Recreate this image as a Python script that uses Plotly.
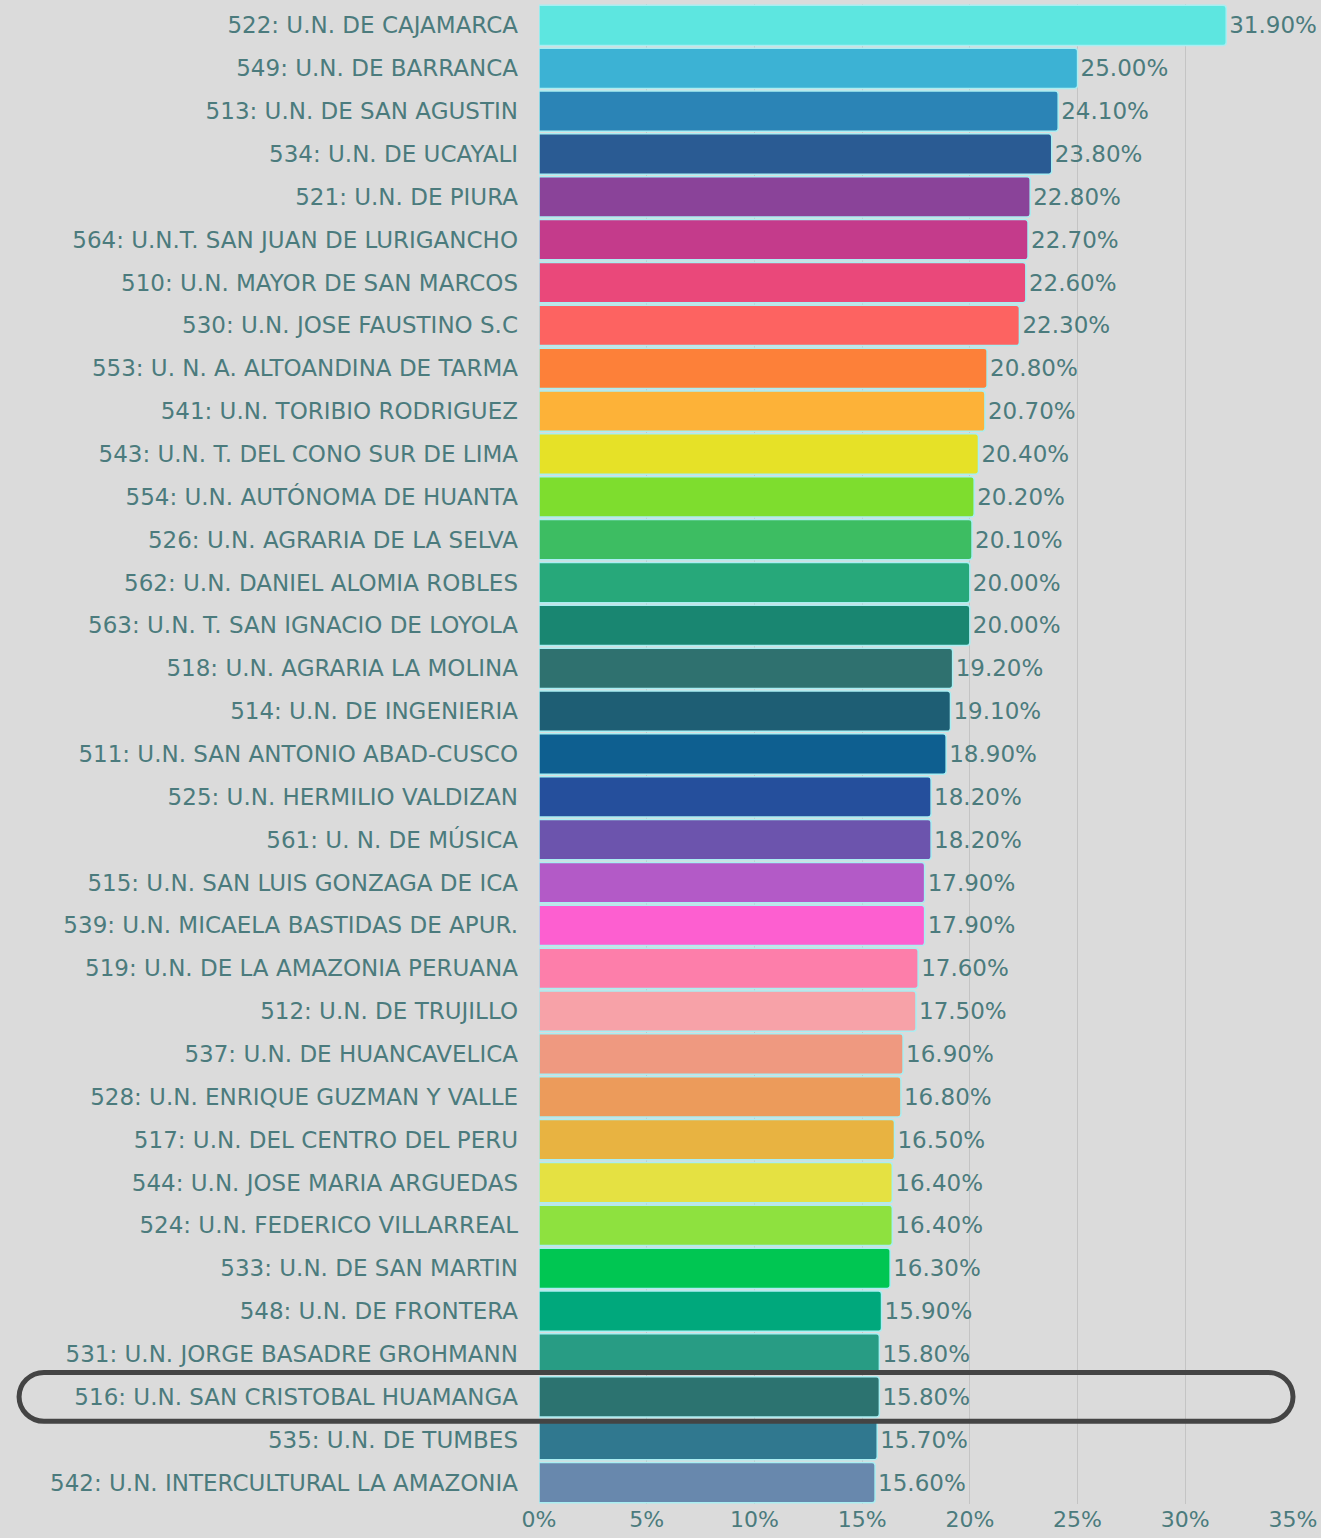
import plotly.graph_objects as go

categories = [
    "522: U.N. DE CAJAMARCA", "549: U.N. DE BARRANCA", "513: U.N. DE SAN AGUSTIN",
    "534: U.N. DE UCAYALI", "521: U.N. DE PIURA", "564: U.N.T. SAN JUAN DE LURIGANCHO",
    "510: U.N. MAYOR DE SAN MARCOS", "530: U.N. JOSE FAUSTINO S.C",
    "553: U. N. A. ALTOANDINA DE TARMA", "541: U.N. TORIBIO RODRIGUEZ",
    "543: U.N. T. DEL CONO SUR DE LIMA", "554: U.N. AUTÓNOMA DE HUANTA",
    "526: U.N. AGRARIA DE LA SELVA", "562: U.N. DANIEL ALOMIA ROBLES",
    "563: U.N. T. SAN IGNACIO DE LOYOLA", "518: U.N. AGRARIA LA MOLINA",
    "514: U.N. DE INGENIERIA", "511: U.N. SAN ANTONIO ABAD-CUSCO",
    "525: U.N. HERMILIO VALDIZAN", "561: U. N. DE MÚSICA",
    "515: U.N. SAN LUIS GONZAGA DE ICA", "539: U.N. MICAELA BASTIDAS DE APUR.",
    "519: U.N. DE LA AMAZONIA PERUANA", "512: U.N. DE TRUJILLO",
    "537: U.N. DE HUANCAVELICA", "528: U.N. ENRIQUE GUZMAN Y VALLE",
    "517: U.N. DEL CENTRO DEL PERU", "544: U.N. JOSE MARIA ARGUEDAS",
    "524: U.N. FEDERICO VILLARREAL", "533: U.N. DE SAN MARTIN",
    "548: U.N. DE FRONTERA", "531: U.N. JORGE BASADRE GROHMANN",
    "516: U.N. SAN CRISTOBAL HUAMANGA", "535: U.N. DE TUMBES",
    "542: U.N. INTERCULTURAL LA AMAZONIA",
]
values = [31.9, 25.0, 24.1, 23.8, 22.8, 22.7, 22.6, 22.3, 20.8, 20.7, 20.4, 20.2,
          20.1, 20.0, 20.0, 19.2, 19.1, 18.9, 18.2, 18.2, 17.9, 17.9, 17.6, 17.5,
          16.9, 16.8, 16.5, 16.4, 16.4, 16.3, 15.9, 15.8, 15.8, 15.7, 15.6]
colors = ["#5de6e0", "#3cb2d4", "#2b84b6", "#2a5b93", "#8a4399", "#c43b8b",
          "#ea487a", "#fd6361", "#fd8039", "#fdb238", "#e6e127", "#7edd2e",
          "#3dbd62", "#27a87a", "#198671", "#2f716f", "#1e5e74", "#0e5f90",
          "#254f9c", "#6c54ad", "#b35ac7", "#fd5fd0", "#fd7eaa", "#f7a2a8",
          "#ef9980", "#ec9b5b", "#e8b341", "#e5e142", "#8ee13f", "#00c652",
          "#00a87c", "#289c84", "#2c7370", "#30788f", "#6888ad"]
highlight = "516: U.N. SAN CRISTOBAL HUAMANGA"
x_ticks = [0, 5, 10, 15, 20, 25, 30, 35]

positions = list(range(len(categories)))
text_color = "#4b7b7d"
bg = "#dbdbdb"
FONT = "DejaVu Sans"
FS = 23

fig = go.Figure(go.Bar(
    x=values, y=positions, orientation="h",
    marker=dict(color=colors, line=dict(color="#a9eef2", width=1.5), cornerradius=3),
    text=[f"{v:.2f}%" for v in values], textposition="outside",
    textfont=dict(color=text_color, size=FS, family=FONT),
    cliponaxis=False,
))

W, H = 1321, 1538
ml, mr, mt, mb = 539, 25, 4, 34
fig.update_layout(
    width=W, height=H, paper_bgcolor=bg, plot_bgcolor=bg,
    margin=dict(l=ml, r=mr, t=mt, b=mb),
    bargap=0.06, showlegend=False,
    font=dict(family=FONT, color=text_color, size=FS),
)
fig.update_xaxes(range=[0, 35], tickvals=x_ticks, ticktext=[f"{t}%" for t in x_ticks],
                 showgrid=True, gridcolor="#c4c4c4", gridwidth=1, zeroline=False,
                 tickfont=dict(size=22, color=text_color, family=FONT), ticks="", showline=False)
fig.update_yaxes(range=[len(categories) - 0.5, -0.5], tickvals=positions, ticktext=categories,
                 showgrid=False, zeroline=False, ticks="", ticklabelstandoff=20,
                 tickfont=dict(size=FS, color=text_color, family=FONT))

# rounded highlight box around the highlighted row
idx = categories.index(highlight)
hh = 0.57
y0, y1 = idx - hh, idx + hh
x_left, x_right = (17 - ml) / (W - ml - mr), 1.0
rx = 25 / (W - ml - mr)
k = 0.5523
path = (f"M {x_left + rx} {y0} L {x_right - rx} {y0} "
        f"C {x_right - rx + rx * k} {y0} {x_right} {idx - hh * k} {x_right} {idx} "
        f"C {x_right} {idx + hh * k} {x_right - rx + rx * k} {y1} {x_right - rx} {y1} "
        f"L {x_left + rx} {y1} "
        f"C {x_left + rx - rx * k} {y1} {x_left} {idx + hh * k} {x_left} {idx} "
        f"C {x_left} {idx - hh * k} {x_left + rx - rx * k} {y0} {x_left + rx} {y0} Z")
fig.add_shape(type="path", path=path, xref="paper", yref="y",
              line=dict(color="#444444", width=5), layer="above")

fig.write_html("out.html", config={"displayModeBar": False},
               post_script="document.body.style.margin='0';")
